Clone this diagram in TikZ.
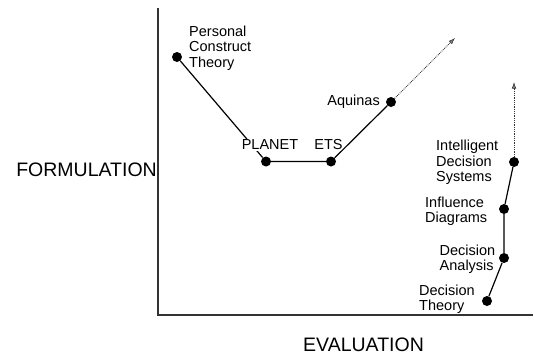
\documentclass[tikz,border=0pt]{standalone}
\usepackage{fontspec}
\setmainfont{Liberation Sans}
\usetikzlibrary{arrows.meta}
\begin{document}
\begin{tikzpicture}[x=1pt,y=-1pt,
  axis/.style={line width=1.1pt,black!80},
  link/.style={line width=1.2pt,black},
  trend/.style={line width=0.9pt,black!80,dash pattern=on 0.8pt off 1pt,
    -{Latex[length=6.5pt,width=4.5pt,fill=black!45,line width=0.6pt]}},
  dot/.style={circle,fill=black,inner sep=0pt,minimum size=10pt},
  lbl/.style={inner sep=0pt,align=left,font=\fontsize{14.5}{15.4}\selectfont},
  axlbl/.style={inner sep=0pt,font=\fontsize{19.5}{22}\selectfont}]
  \useasboundingbox (0,0) rectangle (534,354);

  % axes
  \coordinate (top) at (158,8);
  \coordinate (origin) at (158,315);
  \coordinate (right) at (533,315);
  \draw[axis] (top) -- (origin) -- (right);
  \node[axlbl,anchor=base east] (formulation) at (157,176.7) {FORMULATION};
  \node[axlbl,anchor=base west] (evaluation) at (303,351) {EVALUATION};

  % points
  \node[dot] (pct) at (177,57) {};
  \node[dot] (planet) at (266,161.5) {};
  \node[dot] (ets) at (331,161.5) {};
  \node[dot] (aquinas) at (391,102) {};
  \node[dot] (ids) at (514,162) {};
  \node[dot] (infl) at (504,209) {};
  \node[dot] (da) at (504,258) {};
  \node[dot] (dt) at (487,301) {};
  \coordinate (aqend) at (455,38);
  \coordinate (idsend) at (514,82);

  % connections
  \draw[link] (pct) -- (planet) -- (ets) -- (aquinas);
  \draw[link] (dt) -- (da) -- (infl) -- (ids);
  \draw[trend] (aquinas) -- (aqend);
  \draw[trend] (ids) -- (idsend);

  % labels
  \node[lbl,anchor=north west] (lpct) at (189,25.6) {Personal\\Construct\\Theory};
  \node[lbl,fill=white,inner sep=1.5pt] (lplanet) at (270,145) {PLANET};
  \node[lbl] (lets) at (328.5,145) {ETS};
  \node[lbl,anchor=base east] (laquinas) at (380,105) {Aquinas};
  \node[lbl,anchor=north west] (lids) at (436,140) {Intelligent\\Decision\\Systems};
  \node[lbl,anchor=north west] (linfl) at (425,196.3) {Influence\\Diagrams};
  \node[lbl,anchor=north west] (lda) at (439.5,244.6) {Decision\\Analysis};
  \node[lbl,anchor=north west] (ldt) at (419,284.6) {Decision\\Theory};
\end{tikzpicture}
\end{document}
